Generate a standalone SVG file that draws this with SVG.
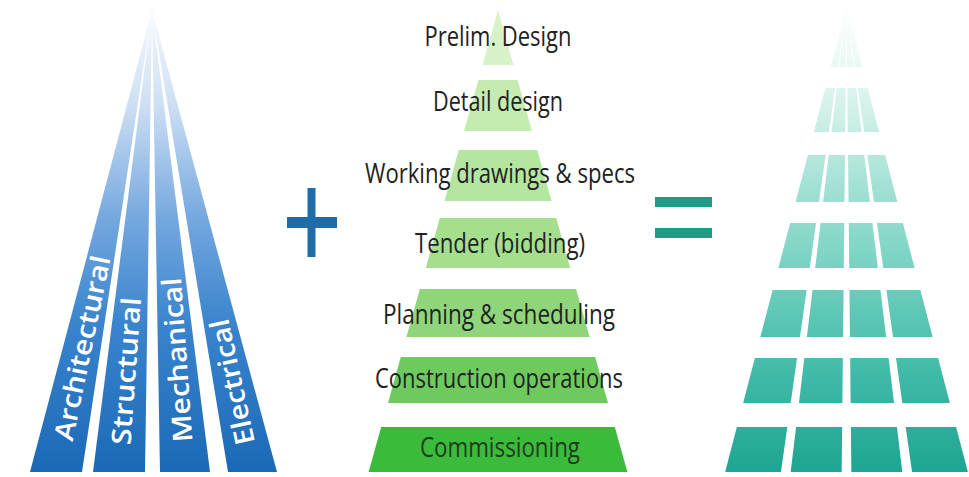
<svg xmlns="http://www.w3.org/2000/svg" width="969" height="477" viewBox="0 0 969 477">
  <defs>
    <!-- discipline fan: fades from white at the apex to deep blue at the base -->
    <linearGradient id="fanBlue" gradientUnits="userSpaceOnUse" x1="0" y1="10" x2="0" y2="472">
      <stop offset="0" stop-color="#f7f9fd"/>
      <stop offset="0.2" stop-color="#cfe0f4"/>
      <stop offset="0.45" stop-color="#75a8df"/>
      <stop offset="0.68" stop-color="#3a84cd"/>
      <stop offset="1" stop-color="#1b69b6"/>
    </linearGradient>
    <!-- integrated grid pyramid: pale mint to teal -->
    <linearGradient id="gridTeal" gradientUnits="userSpaceOnUse" x1="0" y1="7" x2="0" y2="472">
      <stop offset="0" stop-color="#fbfefd"/>
      <stop offset="0.1" stop-color="#eefaf7"/>
      <stop offset="0.24" stop-color="#cdefe7"/>
      <stop offset="0.38" stop-color="#a5e1d5"/>
      <stop offset="0.52" stop-color="#82d6c6"/>
      <stop offset="0.66" stop-color="#5ec7b5"/>
      <stop offset="0.8" stop-color="#3eb9a7"/>
      <stop offset="1" stop-color="#1fa593"/>
    </linearGradient>
  </defs>
  <style>
    .strip { fill: url(#fanBlue); }
    .fanLabel { font-family: "Open Sans", "Noto Sans", "DejaVu Sans", sans-serif; font-size: 27px; font-weight: 600; fill: #ffffff; text-anchor: middle; }
    .stage { font-family: "Open Sans", "Noto Sans", "DejaVu Sans", sans-serif; font-size: 28px; fill: #222222; text-anchor: middle; }
    .tile { fill: url(#gridTeal); }
    .plus { fill: #1f6ca6; }
    .equals { fill: #1b9c87; }
  </style>

  <rect x="0" y="0" width="969" height="477" fill="#ffffff"/>

  <!-- Left: four discipline strips converging to one apex -->
  <g id="discipline-fan">
    <g id="architectural">
      <polygon class="strip" points="152,10 82,472 30,472"/>
      <text class="fanLabel" transform="translate(82,348) rotate(-78.26)" dy="0.36em" textLength="188" lengthAdjust="spacingAndGlyphs">Architectural</text>
    </g>
    <g id="structural">
      <polygon class="strip" points="152,10 145,472 93,472"/>
      <text class="fanLabel" transform="translate(126,371) rotate(-85.9)" dy="0.36em" textLength="148" lengthAdjust="spacingAndGlyphs">Structural</text>
    </g>
    <g id="mechanical">
      <polygon class="strip" points="152,10 210,472 160,472"/>
      <text class="fanLabel" transform="translate(177,360) rotate(-94.1)" dy="0.36em" textLength="165" lengthAdjust="spacingAndGlyphs">Mechanical</text>
    </g>
    <g id="electrical">
      <polygon class="strip" points="152,10 277,472 228,472"/>
      <text class="fanLabel" transform="translate(232,382) rotate(-102.2)" dy="0.36em" textLength="128" lengthAdjust="spacingAndGlyphs">Electrical</text>
    </g>
  </g>

  <!-- Plus sign -->
  <g id="plus-sign">
    <rect class="plus" x="307.5" y="188" width="8" height="69"/>
    <rect class="plus" x="287" y="217" width="50" height="11"/>
  </g>

  <!-- Middle: project stages as a stacked green pyramid -->
  <g id="stage-pyramid">
    <g id="prelim-design">
      <polygon fill="#d6f2c6" points="498,10 513.4,65 482.6,65"/>
      <text class="stage" x="498" y="46" textLength="147" lengthAdjust="spacingAndGlyphs">Prelim. Design</text>
    </g>
    <g id="detail-design">
      <polygon fill="#c4ecb0" points="478.4,80 517.6,80 532,131 464,131"/>
      <text class="stage" x="498" y="111" textLength="130" lengthAdjust="spacingAndGlyphs">Detail design</text>
    </g>
    <g id="working-drawings">
      <polygon fill="#b5e6a0" points="458.8,150 537.2,150 551.5,201 444.5,201"/>
      <text class="stage" x="500" y="183" textLength="270" lengthAdjust="spacingAndGlyphs">Working drawings &amp; specs</text>
    </g>
    <g id="tender">
      <polygon fill="#a5de8d" points="439.8,218 556.2,218 570.2,268 425.8,268"/>
      <text class="stage" x="500" y="253" textLength="170" lengthAdjust="spacingAndGlyphs">Tender (bidding)</text>
    </g>
    <g id="planning">
      <polygon fill="#8fd67a" points="419.9,289 576.1,289 589.6,337 406.4,337"/>
      <text class="stage" x="499" y="324" textLength="232" lengthAdjust="spacingAndGlyphs">Planning &amp; scheduling</text>
    </g>
    <g id="construction">
      <polygon fill="#6fca5e" points="400.8,357 595.2,357 608,403 388,403"/>
      <text class="stage" x="499" y="388" textLength="248" lengthAdjust="spacingAndGlyphs">Construction operations</text>
    </g>
    <g id="commissioning">
      <polygon fill="#3cba3c" points="381.2,427 614.8,427 627.4,472 368.6,472"/>
      <text class="stage" x="500" y="457" style="fill:#1d3d1d" textLength="160" lengthAdjust="spacingAndGlyphs">Commissioning</text>
    </g>
  </g>

  <!-- Equals sign -->
  <g id="equals-sign">
    <rect class="equals" x="655" y="197" width="57" height="10"/>
    <rect class="equals" x="655" y="228" width="57" height="10"/>
  </g>

  <!-- Right: integrated grid pyramid, 7 rows x 4 columns -->
  <g id="grid-pyramid">
    <g id="grid-row-1">
      <polygon class="tile" points="846.5,7 838.04,67 830.84,67"/>
      <polygon class="tile" points="846.5,7 845.87,67 839.30,67"/>
      <polygon class="tile" points="846.5,7 853.70,67 847.13,67"/>
      <polygon class="tile" points="846.5,7 862.16,67 854.96,67"/>
    </g>
    <g id="grid-row-2">
      <polygon class="tile" points="825.36,88 835.08,88 828.88,132 813.87,132"/>
      <polygon class="tile" points="836.78,88 845.65,88 845.19,132 831.49,132"/>
      <polygon class="tile" points="847.35,88 856.22,88 861.51,132 847.81,132"/>
      <polygon class="tile" points="857.92,88 867.64,88 879.13,132 864.12,132"/>
    </g>
    <g id="grid-row-3">
      <polygon class="tile" points="807.87,155 825.64,155 819.01,202 795.60,202"/>
      <polygon class="tile" points="828.73,155 844.95,155 844.46,202 823.09,202"/>
      <polygon class="tile" points="848.05,155 864.27,155 869.91,202 848.54,202"/>
      <polygon class="tile" points="867.36,155 885.13,155 897.40,202 873.99,202"/>
    </g>
    <g id="grid-row-4">
      <polygon class="tile" points="790.12,223 816.05,223 809.72,268 778.38,268"/>
      <polygon class="tile" points="820.57,223 844.24,223 843.78,268 815.16,268"/>
      <polygon class="tile" points="848.76,223 872.43,223 877.84,268 849.22,268"/>
      <polygon class="tile" points="876.95,223 902.88,223 914.62,268 883.28,268"/>
    </g>
    <g id="grid-row-5">
      <polygon class="tile" points="772.64,290 806.62,290 799.99,337 760.37,337"/>
      <polygon class="tile" points="812.52,290 843.55,290 843.05,337 806.88,337"/>
      <polygon class="tile" points="849.45,290 880.48,290 886.12,337 849.95,337"/>
      <polygon class="tile" points="886.38,290 920.36,290 932.63,337 893.01,337"/>
    </g>
    <g id="grid-row-6">
      <polygon class="tile" points="754.89,358 797.03,358 790.69,403 743.14,403"/>
      <polygon class="tile" points="804.36,358 842.84,358 842.37,403 798.95,403"/>
      <polygon class="tile" points="850.16,358 888.64,358 894.05,403 850.63,403"/>
      <polygon class="tile" points="895.97,358 938.11,358 949.86,403 902.31,403"/>
    </g>
    <g id="grid-row-7">
      <polygon class="tile" points="736.88,427 787.31,427 780.96,472 725.13,472"/>
      <polygon class="tile" points="796.07,427 842.12,427 841.65,472 790.67,472"/>
      <polygon class="tile" points="850.88,427 896.93,427 902.33,472 851.35,472"/>
      <polygon class="tile" points="905.69,427 956.12,427 967.87,472 912.04,472"/>
    </g>
  </g>
</svg>
